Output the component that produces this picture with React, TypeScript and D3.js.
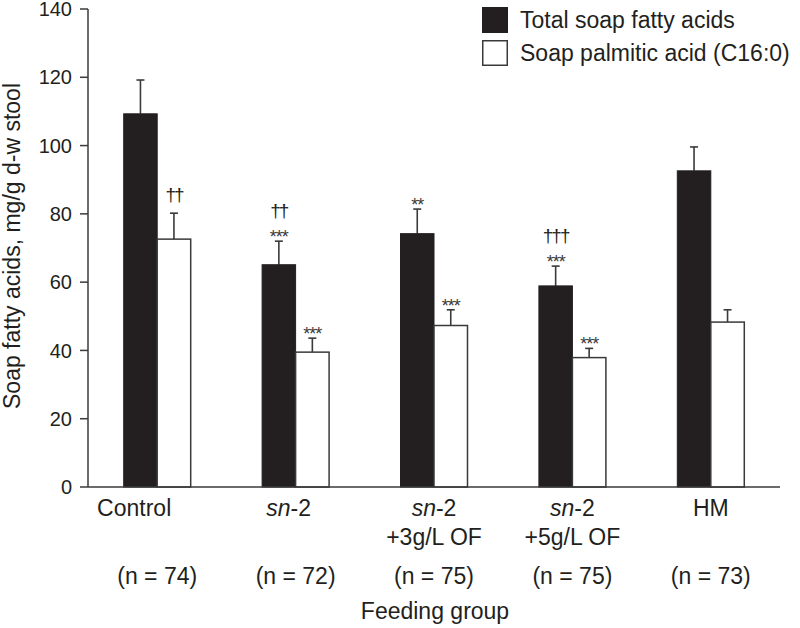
import * as d3 from "d3";

const groups = ["Control", "sn-2", "sn-2 +3g/L OF", "sn-2 +5g/L OF", "HM"];
const nValues = [74, 72, 75, 75, 73];
const totalMeans = [109.3, 65.1, 74.2, 58.9, 92.6];
const totalErrs = [9.9, 6.9, 7.2, 5.8, 7.0];
const palmMeans = [72.6, 39.5, 47.3, 37.9, 48.3];
const palmErrs = [7.6, 4.1, 4.6, 2.7, 3.6];
const totalStars = ["", "***", "**", "***", ""];
const totalDaggers = ["", "††", "", "†††", ""];
const palmStars = ["", "***", "***", "***", ""];
const palmDaggers = ["††", "", "", "", ""];
const yTicks = [0, 20, 40, 60, 80, 100, 120, 140];
const seriesNames = ["Total soap fatty acids", "Soap palmitic acid (C16:0)"];

const W = 800;
const H = 628;
const FONT = "'Liberation Sans', Arial, Helvetica, sans-serif";
const INK = "#231f20";
const LINE = "#3a3a3a";
// label nudges seen in the original layout
const labelShift = [-23, -7, 0, 0, 0];

// "sn-2 +3g/L OF" -> ["sn-2", "+3g/L OF"]
function splitLabel(g: string): string[] {
  const k = g.indexOf(" ");
  return g.startsWith("sn-2") && k > 0 ? [g.slice(0, k), g.slice(k + 1)] : [g];
}

export default function App() {
  const x = d3.scaleBand<string>().domain(groups).range([88, 780]).padding(0);
  const y = d3.scaleLinear().domain([0, 140]).range([487, 9]);
  const barW = x.bandwidth() * 0.242;

  const series = [
    { means: totalMeans, errs: totalErrs, stars: totalStars, daggers: totalDaggers, fill: INK, off: -barW },
    { means: palmMeans, errs: palmErrs, stars: palmStars, daggers: palmDaggers, fill: "#fff", off: 0 },
  ];

  return (
    <svg width={W} height={H} style={{ position: "absolute", left: 0, top: 0, background: "#fff" }} fontFamily={FONT}>
      {/* bars */}
      {series.map((s, si) =>
        groups.map((g, i) => {
          const cx = (x(g) ?? 0) + x.bandwidth() / 2;
          const x0 = cx + s.off;
          const top = y(s.means[i]);
          const errTop = y(s.means[i] + s.errs[i]);
          const mid = x0 + barW / 2;
          const starBase = errTop - 4;
          const dagBase = s.stars[i] ? errTop - 24 : errTop - 12;
          return (
            <g key={`${si}-${i}`}>
              <line x1={mid} x2={mid} y1={top} y2={errTop} stroke={LINE} strokeWidth={1.6} />
              <line x1={mid - 4} x2={mid + 4} y1={errTop} y2={errTop} stroke={LINE} strokeWidth={1.6} />
              <rect
                x={x0}
                y={top}
                width={barW}
                height={y(0) - top}
                fill={s.fill}
                stroke={si === 0 ? INK : LINE}
                strokeWidth={si === 0 ? 1 : 1.5}
              />
              {s.stars[i] && (
                <text x={mid} y={starBase + 6} textAnchor="middle" fontSize={18} fill={LINE} letterSpacing={-1}>
                  {s.stars[i]}
                </text>
              )}
              {s.daggers[i] && (
                <text x={mid} y={dagBase} textAnchor="middle" fontSize={19} fill={INK} letterSpacing={-2}>
                  {s.daggers[i]}
                </text>
              )}
            </g>
          );
        })
      )}

      {/* axes */}
      <line x1={88} x2={88} y1={y(140)} y2={y(0)} stroke={LINE} strokeWidth={1.5} />
      <line x1={88} x2={780} y1={y(0)} y2={y(0)} stroke={LINE} strokeWidth={1.5} />
      {yTicks.map((t) => (
        <g key={t}>
          <line x1={80} x2={88} y1={y(t)} y2={y(t)} stroke={LINE} strokeWidth={1.5} />
          <text x={72} y={y(t)} dy="0.36em" textAnchor="end" fontSize={20} fill={INK}>
            {t}
          </text>
        </g>
      ))}

      {/* category labels */}
      {groups.map((g, i) => {
        const cx = (x(g) ?? 0) + x.bandwidth() / 2;
        const parts = splitLabel(g);
        return (
          <g key={g} fontSize={23} fill={INK} textAnchor="middle">
            {parts.map((p, li) => (
              <text key={li} x={cx + labelShift[i]} y={516 + li * 29}>
                {p === "sn-2" ? (
                  <>
                    <tspan fontStyle="italic">sn</tspan>-2
                  </>
                ) : (
                  p
                )}
              </text>
            ))}
            <text x={cx} y={584}>
              (n = {nValues[i]})
            </text>
          </g>
        );
      })}

      <text x={435} y={619} textAnchor="middle" fontSize={23} fill={INK}>
        Feeding group
      </text>
      <text transform={`translate(20,246) rotate(-90)`} textAnchor="middle" fontSize={23} fill={INK}>
        Soap fatty acids, mg/g d-w stool
      </text>

      {/* legend */}
      {seriesNames.map((name, i) => (
        <g key={name} transform={`translate(482,${7 + i * 33})`}>
          <rect
            x={0.75}
            y={0.75}
            width={24.5}
            height={24.5}
            fill={i === 0 ? INK : "#fff"}
            stroke={i === 0 ? INK : LINE}
            strokeWidth={1.5}
          />
          <text x={38} y={20.5} fontSize={23} fill={INK}>
            {name}
          </text>
        </g>
      ))}
    </svg>
  );
}
